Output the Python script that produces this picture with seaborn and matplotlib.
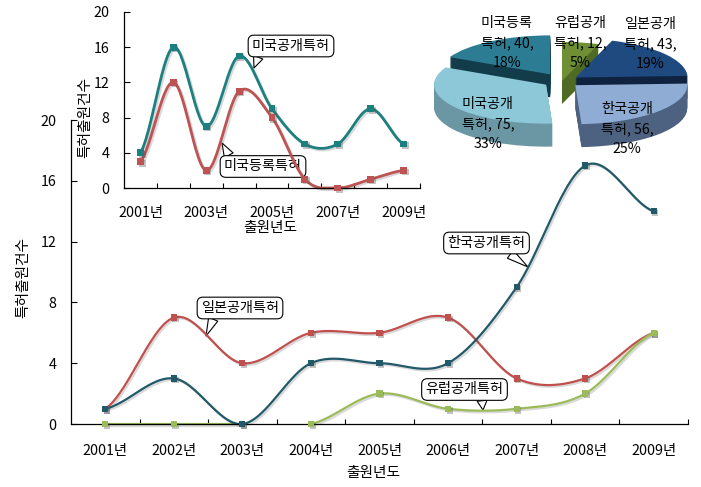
import matplotlib
matplotlib.use('Agg')
import matplotlib.patheffects as pe
import matplotlib.pyplot as plt
from matplotlib.ticker import FixedLocator, NullFormatter
import numpy as np
import pandas as pd
import seaborn as sns

YEARS = [f"{y}년" for y in range(2001, 2010)]

KR_PUB = [1, 3, 0, 4, 4, 4, 9, 17, 14]
JP_PUB = [1, 7, 4, 6, 6, 7, 3, 3, 6]
EU_PUB = [0, 0, 0, 0, 2, 1, 1, 2, 6]
US_PUB = [4, 16, 7, 15, 9, 5, 5, 9, 5]
US_REG = [3, 12, 2, 11, 8, 1, 0, 1, 2]

PIE_NAMES = [("유럽공개", "특허"), ("일본공개", "특허"), ("한국공개", "특허"), ("미국공개", "특허"), ("미국등록", "특허")]
PIE_VALUES = [12, 43, 56, 75, 40]
PIE_EXPLODE = [0.0, 0.15, 0.16, 0.17, 0.2]
PIE_TOP = ['#6f8f35', '#1f4a80', '#8fadd4', '#8cc8d8', '#2c7d94']
PIE_WALL = ['#4f6a22', '#0f2340', '#4d6280', '#6b97a5', '#123c4a']

W, H = 701, 487
plt.rcParams['figure.dpi'] = 100
sns.set_theme(style="white")
plt.rcParams['font.family'] = ['Noto Sans CJK KR', 'DejaVu Sans']
plt.rcParams['axes.unicode_minus'] = False
FS = 10.3


# 픽셀 좌표(왼쪽 위 기준)를 figure 좌표로 바꾼다.
def fx(px):
    return px / W


def fy(py):
    return 1 - py / H


def axes_box(left, top, right, bottom):
    return [fx(left), fy(bottom), (right - left) / W, (bottom - top) / H]


# 엑셀의 부드러운 선처럼 점 사이를 베지어로 잇는다.
def smooth(values, n=30):
    y = np.asarray(values, dtype=float)
    xs, ys = [], []
    for i in range(len(y) - 1):
        prev_y = y[max(i - 1, 0)]
        next_y = y[min(i + 2, len(y) - 1)]
        c1 = y[i] + (y[i + 1] - prev_y) / 6
        c2 = y[i + 1] - (next_y - y[i]) / 6
        t = np.linspace(0, 1, n)
        ys.append((1 - t) ** 3 * y[i] + 3 * (1 - t) ** 2 * t * c1 + 3 * (1 - t) * t ** 2 * c2 + t ** 3 * y[i + 1])
        xs.append(i + t)
    return pd.DataFrame({'x': np.concatenate(xs), 'y': np.clip(np.concatenate(ys), 0, None)})


def draw_series(ax, values, color, lw=1.6, ms=20, gap=None):
    curve = smooth(values)
    curve['seg'] = 0
    if gap is not None:
        curve = curve[(curve['x'] <= gap) | (curve['x'] >= gap + 1)].copy()
        curve['seg'] = (curve['x'] >= gap + 1).astype(int)
    shadow = [pe.SimpleLineShadow(offset=(1.2, -1.2), alpha=0.22, shadow_color='#555555'), pe.Normal()]
    before = len(ax.lines)
    sns.lineplot(data=curve, x='x', y='y', units='seg', estimator=None, sort=False,
                 color=color, linewidth=lw, ax=ax, legend=False)
    for line in ax.lines[before:]:
        line.set_clip_on(False)
        line.set_path_effects(shadow)
    points = pd.DataFrame({'x': range(len(values)), 'y': values})
    dots = sns.scatterplot(data=points, x='x', y='y', color=color, marker='s', s=ms, linewidth=0,
                           ax=ax, legend=False, clip_on=False, zorder=4)
    dots.collections[-1].set_path_effects(
        [pe.withSimplePatchShadow(offset=(1.2, -1.2), alpha=0.35, shadow_rgbFace='#555555')])


def style_axes(ax, label_every, tick_pad):
    ax.set_xlim(-0.5, 8.5)
    ax.set_ylim(0, 20)
    ax.patch.set_alpha(0)
    sns.despine(ax=ax)
    for side in ['left', 'bottom']:
        ax.spines[side].set_color('black')
        ax.spines[side].set_linewidth(0.9)
    ax.set_yticks(range(0, 21, 4))
    ax.set_xticks(range(0, 9, label_every))
    ax.set_xticklabels(YEARS[::label_every], fontsize=FS, color='black')
    ax.xaxis.set_minor_locator(FixedLocator(np.arange(0.5, 9, 1)))
    ax.xaxis.set_minor_formatter(NullFormatter())
    ax.tick_params(axis='x', which='major', length=0, pad=tick_pad)
    ax.tick_params(axis='x', which='minor', bottom=True, direction='in', length=3.5, width=0.8, color='black')
    ax.tick_params(axis='y', left=True, direction='in', length=4, width=0.8, color='black',
                   labelsize=FS, labelcolor='black', pad=10.5)


# 말풍선은 축 안에 넣어 곡선이 그 위로 지나가게 한다.
def callout(ax, text, box_x, box_y, tip, relpos):
    ax.annotate(
        text, xy=(fx(tip[0]), fy(tip[1])), xytext=(fx(box_x), fy(box_y)),
        xycoords='figure fraction', textcoords='figure fraction', ha='center', va='center',
        fontsize=FS - 0.1, color='black', zorder=1, annotation_clip=False,
        bbox=dict(boxstyle='round,pad=0.27,rounding_size=0.4', fc='white', ec='black', lw=0.8),
        arrowprops=dict(arrowstyle='wedge,tail_width=0.7,shrink_factor=0.5', fc='white', ec='black', lw=0.8,
                        relpos=relpos, shrinkA=0, shrinkB=0))


fig = plt.figure(figsize=(W / 100, H / 100), dpi=100)

# 메인 차트
ax = fig.add_axes(axes_box(71, 120, 688, 424))
draw_series(ax, JP_PUB, '#c0504d')
draw_series(ax, EU_PUB, '#9bbb59', gap=2)
draw_series(ax, KR_PUB, '#215968')
style_axes(ax, 1, 14.5)
ax.set_xlabel("출원년도", fontsize=FS + 0.3, color='black')
ax.set_ylabel("특허출원건수", fontsize=FS + 0.3, color='black')
ax.xaxis.set_label_coords((373 - 71) / 617, -(473 - 424) / 304, transform=ax.transAxes)
ax.xaxis.label.set_va('center')
ax.yaxis.set_label_coords((23 - 71) / 617, (424 - 278) / 304, transform=ax.transAxes)
ax.yaxis.label.set_va('center')

# 미국 특허 차트
inset = fig.add_axes(axes_box(124, 12, 420, 188))
draw_series(inset, US_PUB, '#1d8080', lw=2.0, ms=24)
draw_series(inset, US_REG, '#bd5353', lw=2.0, ms=24)
style_axes(inset, 2, 13)
inset.set_xlabel("출원년도", fontsize=FS + 0.3, color='black')
inset.set_ylabel("특허출원건수", fontsize=FS + 0.3, color='black')
inset.xaxis.set_label_coords((270 - 124) / 296, -(228 - 188) / 176, transform=inset.transAxes)
inset.xaxis.label.set_va('center')
inset.yaxis.set_label_coords((85 - 124) / 296, (188 - 117) / 176, transform=inset.transAxes)
inset.yaxis.label.set_va('center')

# 3차원처럼 보이는 파이: 옆면을 여러 겹 쌓고 윗면을 마지막에 올린다.
pie_ax = fig.add_axes(axes_box(420, 20, 700, 170))
RX, RY, DEPTH = 112, 39, 23
for step in range(DEPTH, 0, -1):
    pie_ax.pie(PIE_VALUES, explode=PIE_EXPLODE, colors=PIE_WALL, startangle=90, counterclock=False,
               center=(0, -step / RY), wedgeprops=dict(linewidth=0))
pie_ax.pie(PIE_VALUES, explode=PIE_EXPLODE, colors=PIE_TOP, startangle=90, counterclock=False,
           wedgeprops=dict(linewidth=0))
pie_ax.set_aspect('auto')
pie_ax.set_xlim((420 - 562) / RX, (700 - 562) / RX)
pie_ax.set_ylim((81 - 170) / RY, (81 - 20) / RY)

total = sum(PIE_VALUES)
label_pos = [(580, 43), (650, 44), (627, 129), (488, 124), (507, 43)]
for (name, suffix), value, (px, py) in zip(PIE_NAMES, PIE_VALUES, label_pos):
    fig.text(fx(px), fy(py), f"{name}\n{suffix}, {value},\n{round(value / total * 100)}%",
             ha='center', va='center', fontsize=FS - 0.1, color='black', linespacing=1.52, zorder=9)

callout(inset, "미국공개특허", 291, 46, (254, 68), (0.1, 0))
callout(inset, "미국등록특허", 263, 166.5, (222, 143), (0.09, 1))
callout(ax, "일본공개특허", 240, 308, (206, 336), (0.18, 0))
callout(ax, "한국공개특허", 486.5, 243, (528, 267), (0.73, 0))
callout(ax, "유럽공개특허", 464.5, 389.5, (483, 410), (0.72, 0))

fig.savefig('out.png', dpi=100)
